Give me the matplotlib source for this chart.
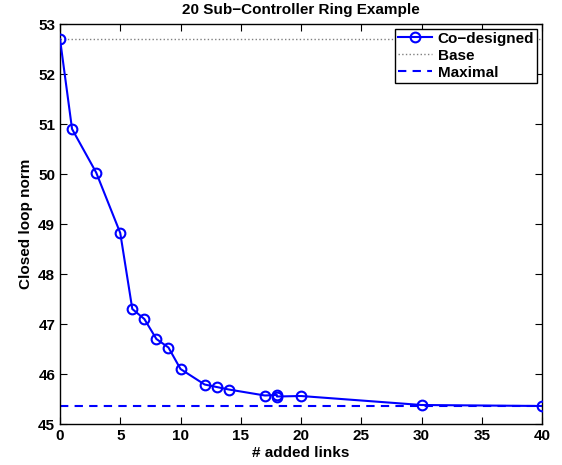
import matplotlib.pyplot as plt

# closed loop norm vs number of added links
links = [0, 1, 3, 5, 6, 7, 8, 9, 10, 12, 13, 14, 17, 18, 18, 20, 30, 40]
norm = [52.70, 50.90, 50.03, 48.82, 47.30, 47.10, 46.70, 46.53, 46.10,
        45.79, 45.74, 45.69, 45.57, 45.58, 45.55, 45.56, 45.38, 45.36]
base = 52.70
maximal = 45.36

plt.rcParams['font.family'] = ['Liberation Sans', 'DejaVu Sans']
plt.rcParams['font.weight'] = 'bold'

fig = plt.figure(figsize=(5.62, 4.65), dpi=100)
ax = fig.add_axes([60 / 562, 41 / 465, 482 / 562, 400 / 465])

ax.plot(links, norm, color="blue", linewidth=1.5, marker="o", markersize=7,
        markerfacecolor="none", markeredgewidth=1.5, label="Co\u2212designed", zorder=3)
ax.plot([0, 40], [base, base], color="gray", linestyle=":", linewidth=1, label="Base")
ax.plot([0, 40], [maximal, maximal], color="blue", linestyle="--", linewidth=1.5,
        dashes=(4, 3), label="Maximal")

ax.set_xlim(0, 40)
ax.set_ylim(45, 53)
ax.set_xticks(range(0, 41, 5))
ax.set_yticks(range(45, 54))
ax.tick_params(direction="in", top=True, right=True, labelsize=11, length=5)
for s in ax.spines.values():
    s.set_linewidth(1)

ax.set_xlabel("# added links", fontsize=11, fontweight="bold", labelpad=2)
ax.set_ylabel("Closed loop norm", fontsize=11, fontweight="bold")
ax.set_title("20 Sub\u2212Controller Ring Example", fontsize=11, fontweight="bold", pad=7)

leg = ax.legend(loc="upper right", fontsize=11, fancybox=False, framealpha=1,
                edgecolor="black", borderaxespad=0.3, handlelength=2.2,
                borderpad=0.2, labelspacing=0.2, handletextpad=0.4)
leg.get_frame().set_linewidth(1)

plt.savefig("out.png", dpi=100)
